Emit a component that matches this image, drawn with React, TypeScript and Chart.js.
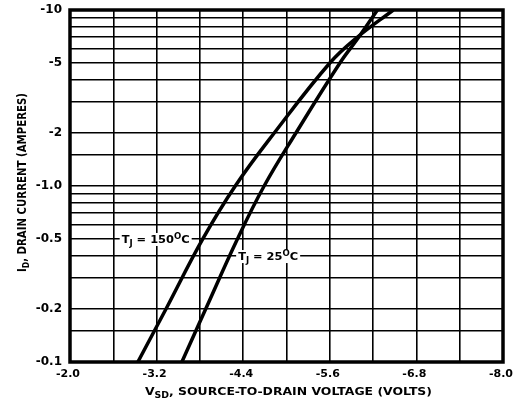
import React, { useEffect, useRef } from 'react';
import { Chart, registerables } from 'chart.js';
Chart.register(...registerables);

// Source-to-drain voltage magnitude (V) and drain current magnitude (A)
const current150 = [0.1, 0.2, 0.5, 1.0, 2, 5, 7, 10];
const voltage150 = [2.94, 3.33, 3.84, 4.29, 4.83, 5.6, 5.98, 6.48];
const current25 = [0.1, 0.2, 0.5, 1.0, 2, 5, 7, 10];
const voltage25 = [3.55, 3.88, 4.32, 4.69, 5.13, 5.74, 6.0, 6.26];

const xGridTicks = [2.0, 2.6, 3.2, 3.8, 4.4, 5.0, 5.6, 6.2, 6.8, 7.4, 8.0];
const xTickLabels = ['-2.0', '', '-3.2', '', '-4.4', '', '-5.6', '', '-6.8', '', '-8.0'];
const yGridTicks = [0.1, 0.15, 0.2, 0.3, 0.4, 0.5, 0.6, 0.7, 0.8, 0.9, 1, 1.5, 2, 3, 4, 5, 6, 7, 8, 9, 10];
const yTickLabels = ['-0.1', '', '-0.2', '', '', '-0.5', '', '', '', '', '-1.0', '', '-2', '', '', '-5', '', '', '', '', '-10'];

// curve annotations (anchor in data coordinates)
const label150Parts = [{ t: 'T' }, { t: 'J', sub: true }, { t: ' = 150' }, { t: 'O', sup: true }, { t: 'C' }];
const label25Parts = [{ t: 'T' }, { t: 'J', sub: true }, { t: ' = 25' }, { t: 'O', sup: true }, { t: 'C' }];
const label150Anchor = { v: 2.716, i: 0.5 };
const label25Anchor = { v: 4.33, i: 0.4 };

const xTitleParts = [{ t: 'V' }, { t: 'SD', sub: true }, { t: ', SOURCE-TO-DRAIN VOLTAGE (VOLTS)' }];
const yTitleParts = [{ t: 'I' }, { t: 'D', sub: true }, { t: ', DRAIN CURRENT (AMPERES)' }];

type Part = { t: string; sub?: boolean; sup?: boolean };

function drawParts(ctx: CanvasRenderingContext2D, parts: Part[], size: number, family: string, draw: boolean) {
  let cx = 0;
  for (const p of parts) {
    const s = p.sub || p.sup ? size * 0.75 : size;
    ctx.font = `bold ${s}px ${family}`;
    const dy = p.sub ? size * 0.28 : p.sup ? -size * 0.38 : 0;
    if (draw) ctx.fillText(p.t, cx, dy);
    cx += ctx.measureText(p.t).width;
  }
  return cx;
}

function drawFitted(ctx: CanvasRenderingContext2D, parts: Part[], x: number, y: number, rot: number, target: number, size: number, family: string) {
  ctx.save();
  ctx.textBaseline = 'alphabetic';
  ctx.textAlign = 'left';
  ctx.fillStyle = '#000';
  const w = drawParts(ctx, parts, size, family, false);
  ctx.translate(x, y);
  ctx.rotate(rot);
  ctx.scale(target / w, 1);
  drawParts(ctx, parts, size, family, true);
  ctx.restore();
}

const decorPlugin = {
  id: 'decor',
  afterDraw(chart: any) {
    const { ctx, chartArea, scales } = chart;
    const xs = scales.x;
    const ys = scales.y;
    // frame
    ctx.save();
    ctx.strokeStyle = '#000';
    ctx.lineWidth = 3.5;
    ctx.strokeRect(chartArea.left, chartArea.top, chartArea.right - chartArea.left, chartArea.bottom - chartArea.top);
    ctx.restore();

    // curve labels
    const labels = [
      { parts: label150Parts, a: label150Anchor, w: 68 },
      { parts: label25Parts, a: label25Anchor, w: 60 },
    ];
    for (const l of labels) {
      const px = xs.getPixelForValue(l.a.v);
      const py = ys.getPixelForValue(l.a.i);
      ctx.save();
      ctx.fillStyle = '#fff';
      ctx.fillRect(px - 2, py - 6, l.w + 4, 13);
      ctx.restore();
      drawFitted(ctx, l.parts, px, py + 4, 0, l.w, 11, '"DejaVu Sans", sans-serif');
    }

    // axis titles
    drawFitted(ctx, xTitleParts, 145, 395, 0, 287, 11, '"DejaVu Sans", sans-serif');
    drawFitted(ctx, yTitleParts, 26, 272, -Math.PI / 2, 179, 12, '"DejaVu Sans Condensed", "DejaVu Sans", sans-serif');
  },
};

export default function App() {
  const ref = useRef<HTMLCanvasElement | null>(null);
  useEffect(() => {
    if (!ref.current) return;
    const chart = new Chart(ref.current, {
      type: 'line',
      data: {
        datasets: [
          {
            label: 'TJ = 150°C',
            data: voltage150.map((v, k) => ({ x: v, y: current150[k] })),
            borderColor: '#000',
            borderWidth: 3.5,
            pointRadius: 0,
            tension: 0.4,
          },
          {
            label: 'TJ = 25°C',
            data: voltage25.map((v, k) => ({ x: v, y: current25[k] })),
            borderColor: '#000',
            borderWidth: 3.5,
            pointRadius: 0,
            tension: 0.4,
          },
        ],
      },
      options: {
        animation: false,
        responsive: false,
        devicePixelRatio: 1,
        layout: { padding: { top: 10, right: 10, left: 0, bottom: 0 } },
        plugins: { legend: { display: false }, tooltip: { enabled: false } },
        scales: {
          x: {
            type: 'linear',
            min: 2,
            max: 8,
            afterBuildTicks: (s: any) => {
              s.ticks = xGridTicks.map((v) => ({ value: v }));
            },
            afterFit: (s: any) => {
              s.height = 41;
              s.paddingLeft = 0;
              s.paddingRight = 0;
            },
            grid: { color: '#000', lineWidth: 1.6, drawTicks: false },
            border: { display: false },
            ticks: {
              autoSkip: false,
              maxRotation: 0,
              padding: 6,
              labelOffset: -2,
              color: '#000',
              font: { family: '"DejaVu Sans", sans-serif', size: 11, weight: 'bold' },
              callback: (_v: any, i: number) => xTickLabels[i],
            },
          },
          y: {
            type: 'logarithmic',
            min: 0.1,
            max: 10,
            afterBuildTicks: (s: any) => {
              s.ticks = yGridTicks.map((v) => ({ value: v }));
            },
            afterFit: (s: any) => {
              s.width = 70;
              s.paddingTop = 0;
              s.paddingBottom = 0;
            },
            grid: { color: '#000', lineWidth: 1.6, drawTicks: false },
            border: { display: false },
            ticks: {
              autoSkip: false,
              padding: 8,
              color: '#000',
              font: { family: '"DejaVu Sans", sans-serif', size: 12, weight: 'bold' },
              callback: (_v: any, i: number) => yTickLabels[i],
            },
          },
        },
      } as any,
      plugins: [decorPlugin],
    });
    return () => chart.destroy();
  }, []);
  return (
    <div style={{ position: 'absolute', left: 0, top: 0, width: 513, height: 403, background: '#fff' }}>
      <canvas ref={ref} width={513} height={403} style={{ display: 'block' }} />
    </div>
  );
}
